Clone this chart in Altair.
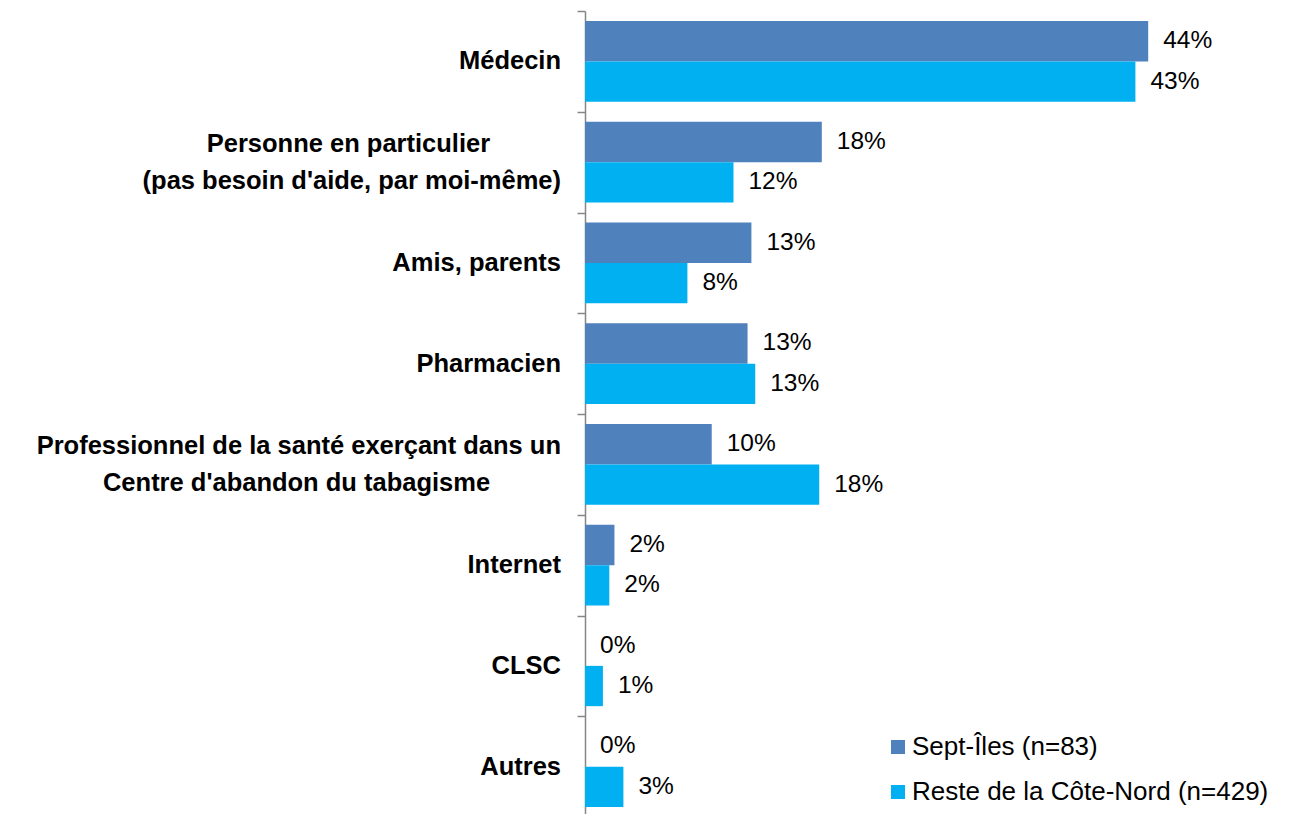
import altair as alt
import pandas as pd

categories = [
    "Médecin",
    "Personne en particulier|(pas besoin d'aide, par moi-même)",
    "Amis, parents",
    "Pharmacien",
    "Professionnel de la santé exerçant dans un|Centre d'abandon du tabagisme",
    "Internet",
    "CLSC",
    "Autres",
]
series = ["Sept-Îles (n=83)", "Reste de la Côte-Nord (n=429)"]
sept_values = [44.0, 18.5, 13.0, 12.7, 9.9, 2.3, 0.0, 0.0]
reste_values = [43.0, 11.6, 8.0, 13.3, 18.3, 1.9, 1.4, 3.0]
sept_labels = ["44%", "18%", "13%", "13%", "10%", "2%", "0%", "0%"]
reste_labels = ["43%", "12%", "8%", "13%", "18%", "2%", "1%", "3%"]
colors = ["#4F81BD", "#00B0F0"]

rows = []
for i, c in enumerate(categories):
    rows.append({"cat": c, "series": series[0], "value": sept_values[i], "label": sept_labels[i]})
    rows.append({"cat": c, "series": series[1], "value": reste_values[i], "label": reste_labels[i]})
df = pd.DataFrame(rows)

# category label lines (two-line labels: the shorter line is padded so the block looks centred)
CENTER_PAD = "\u00a0" * 10 + "\u200b"
line_rows = []
for c in categories:
    parts = c.split("|")
    if len(parts) == 2:
        short = 0 if len(parts[0]) < len(parts[1]) else 1
        parts = [p + CENTER_PAD if k == short else p for k, p in enumerate(parts)]
    for k, p in enumerate(parts):
        line_rows.append({"cat": c, "line": p, "pos": k, "n": len(parts)})
ldf = pd.DataFrame(line_rows)

FONT = "Liberation Sans"
GRAY = "#868686"

y_enc = alt.Y(
    "cat:N",
    sort=categories,
    scale=alt.Scale(paddingInner=0, paddingOuter=0),
    axis=alt.Axis(
        title=None,
        labels=False,
        tickBand="extent",
        tickSize=8,
        tickColor=GRAY,
        tickWidth=1.5,
        domainColor=GRAY,
        domainWidth=1.5,
        grid=False,
    ),
)
yoff_enc = alt.YOffset("series:N", sort=series, scale=alt.Scale(paddingOuter=0.25, paddingInner=0))
x_enc = alt.X("value:Q", scale=alt.Scale(domain=[0, 50]), axis=None)

bars = alt.Chart(df).mark_bar(opacity=1).encode(
    x=x_enc,
    y=y_enc,
    yOffset=yoff_enc,
    color=alt.Color(
        "series:N",
        sort=series,
        scale=alt.Scale(domain=series, range=colors),
        legend=alt.Legend(
            title=None,
            orient="none",
            legendX=300,
            legendY=723,
            symbolType="square",
            symbolSize=196,
            symbolStrokeWidth=0,
            symbolOpacity=1,
            labelFont=FONT,
            labelFontSize=26,
            labelColor="black",
            labelLimit=600,
            labelOffset=1,
            rowPadding=19,
            padding=0,
        ),
    ),
)

texts = alt.Chart(df).mark_text(
    align="left", baseline="middle", dx=15, font=FONT, fontSize=24.5, color="black"
).encode(
    x=x_enc,
    y=alt.Y("cat:N", sort=categories),
    yOffset=yoff_enc,
    text="label:N",
)


def cat_labels(test, dy):
    return (
        alt.Chart(ldf)
        .transform_filter(test)
        .mark_text(align="right", baseline="middle", dy=dy, font=FONT, fontSize=25.5,
                   fontWeight="bold", color="black")
        .encode(x=alt.value(-24), y=alt.Y("cat:N", sort=categories), text="line:N")
    )


labels_single = cat_labels("datum.n == 1", 0)
labels_top = cat_labels("datum.n == 2 && datum.pos == 0", -18)
labels_bottom = cat_labels("datum.n == 2 && datum.pos == 1", 18.5)

chart = (
    alt.layer(bars, texts, labels_single, labels_top, labels_bottom)
    .properties(
        width=640,
        height=806,
        autosize=alt.AutoSizeParams(type="none"),
        padding={"left": 577, "top": 3, "right": 50, "bottom": 0},
        background="white",
    )
    .configure_view(stroke=None)
)

chart.save("out.html", embed_options={"renderer": "svg", "actions": False})
